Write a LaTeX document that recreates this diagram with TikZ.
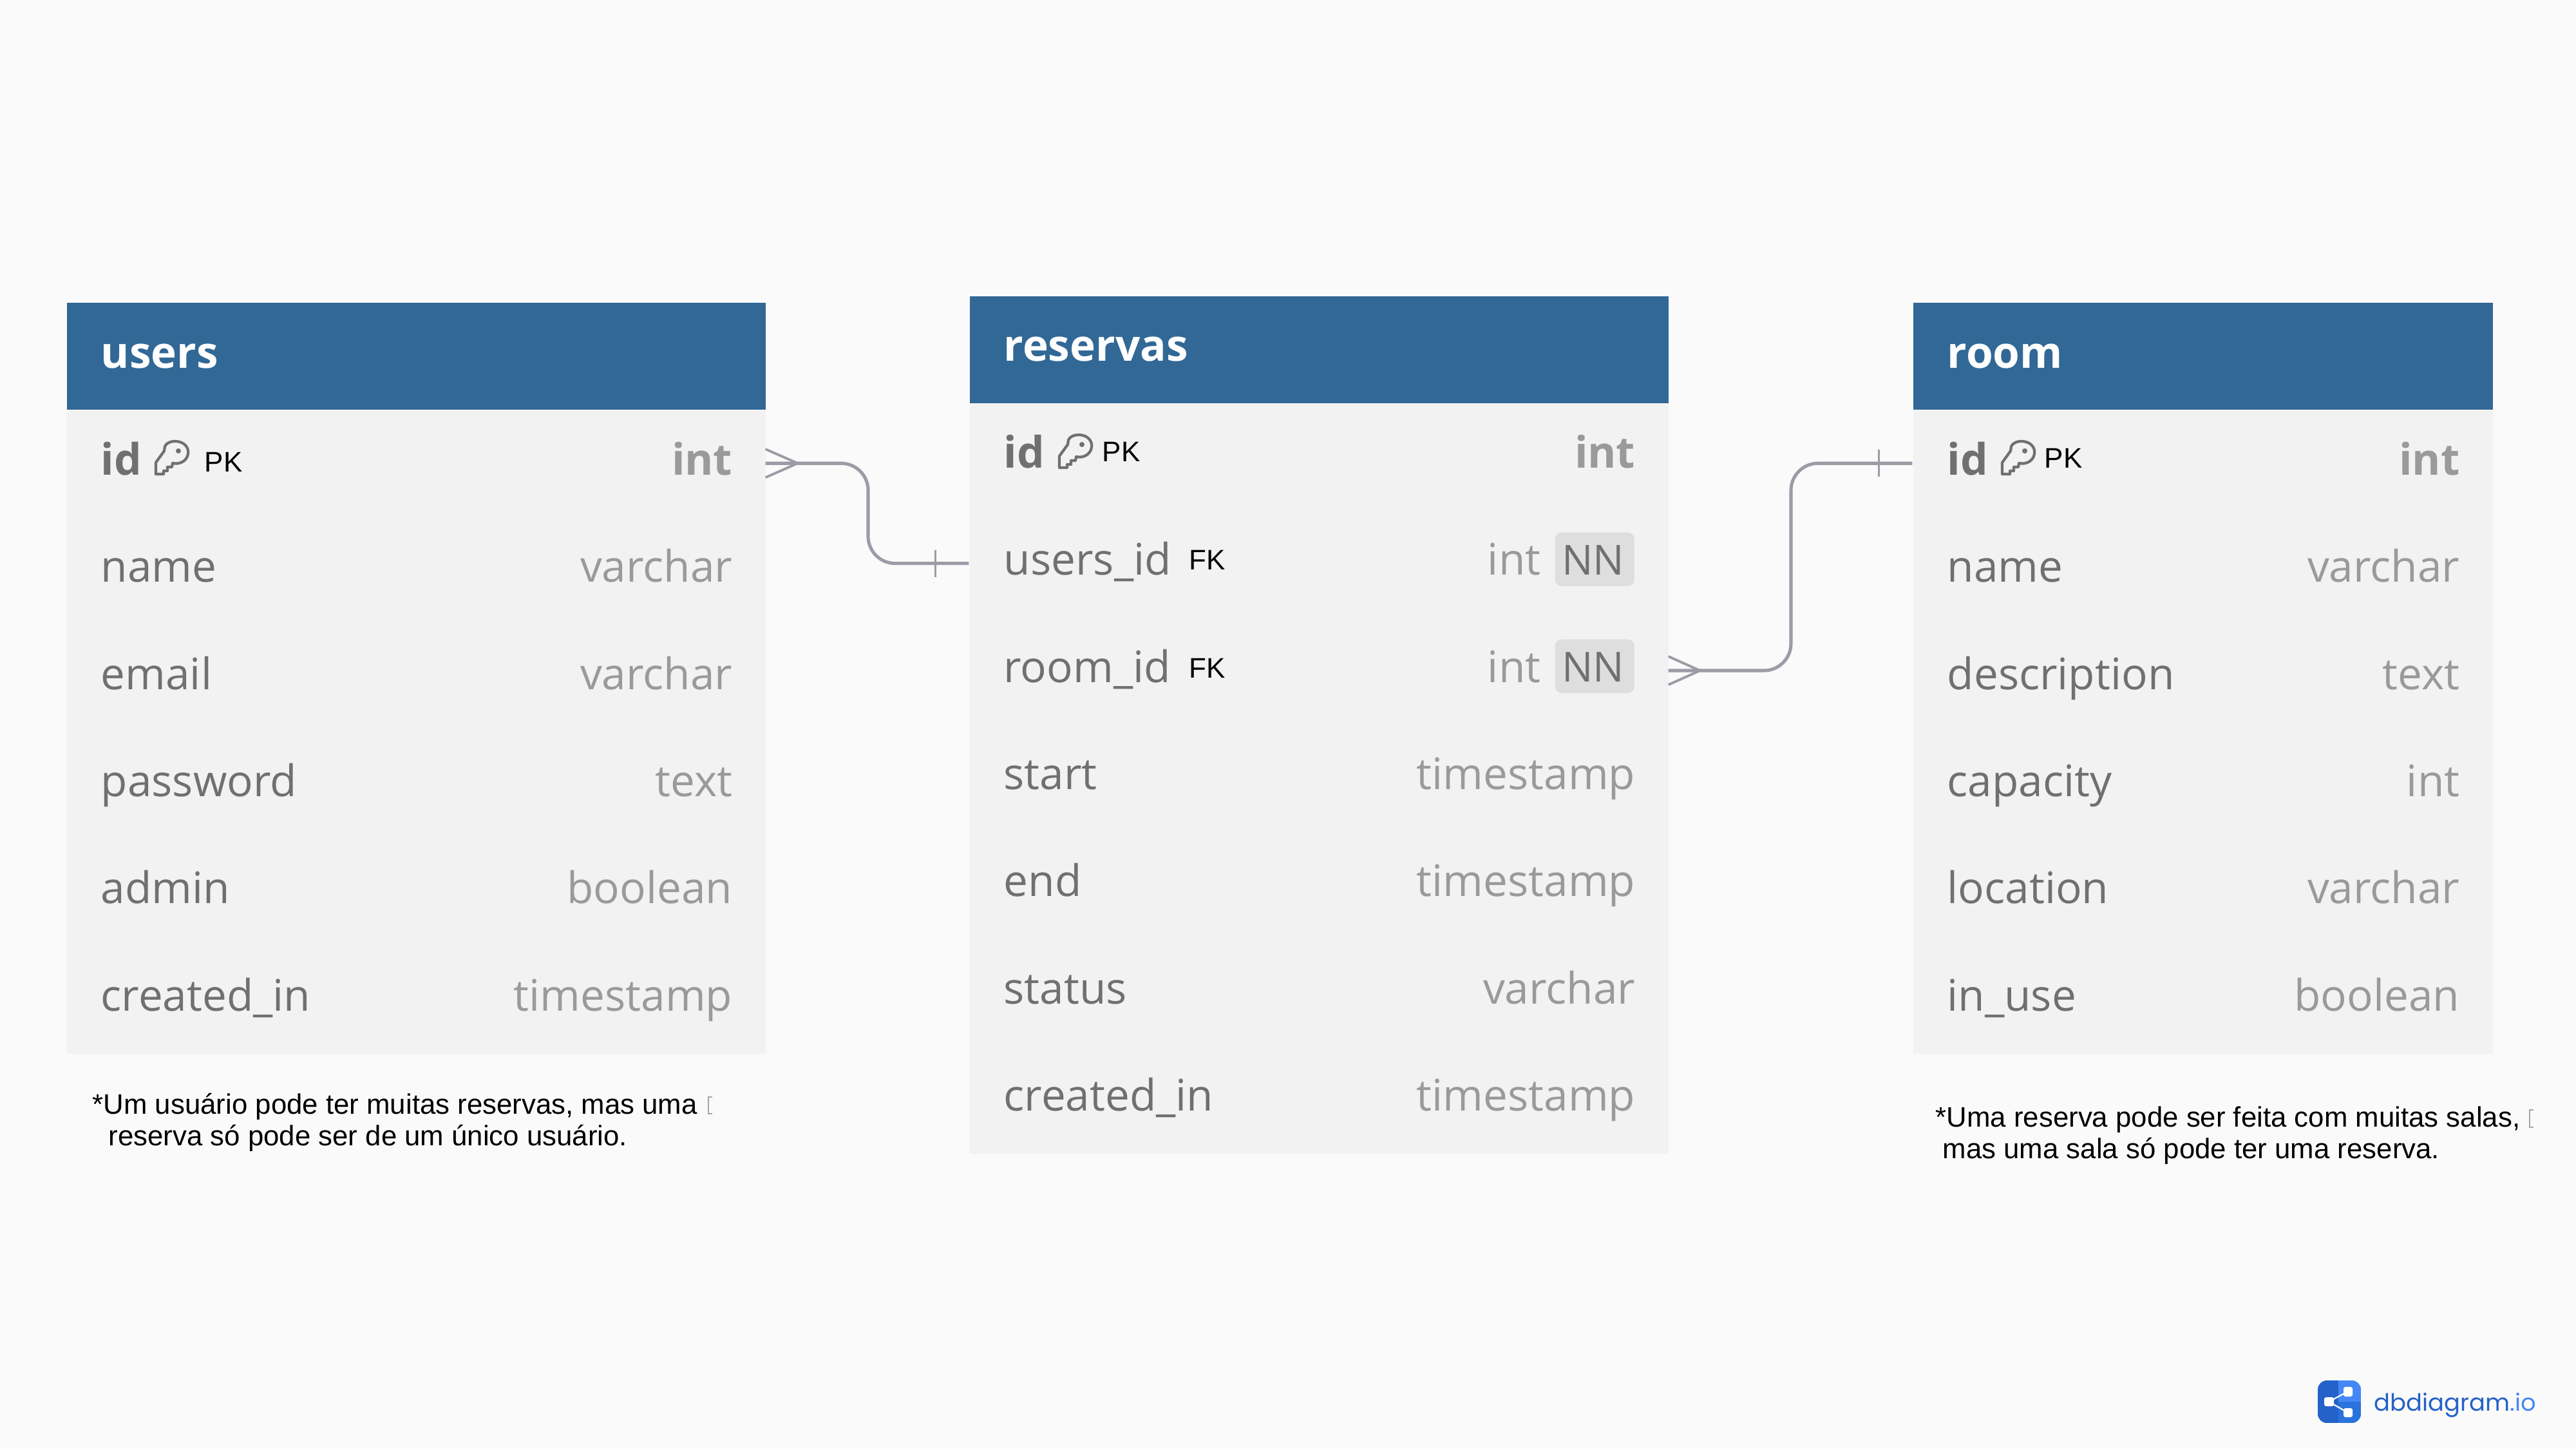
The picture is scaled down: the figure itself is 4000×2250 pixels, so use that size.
\documentclass[tikz,border=0pt]{standalone}
\usepackage{fontspec}
\usetikzlibrary{calc}
\setmainfont{Liberation Sans}
\newfontfamily\osans{Open Sans}
\newfontfamily\logofont{Poppins}
\definecolor{pagebg}{HTML}{FAFAFA}
\definecolor{headblue}{HTML}{316896}
\definecolor{bodygrey}{HTML}{F2F2F2}
\definecolor{nametxt}{HTML}{707070}
\definecolor{typetxt}{HTML}{9A9A9A}
\definecolor{badge}{HTML}{DEDEDE}
\definecolor{relline}{HTML}{9B9CA6}
\definecolor{logoa}{HTML}{2461C9}
\definecolor{logob}{HTML}{4588F5}
\definecolor{logoc}{HTML}{2A72DC}
\tikzset{
  x=0.01cm,y=-0.01cm,
  tabhead/.style={fill=headblue,draw=none,inner sep=0pt,anchor=north west,minimum height=1.665cm},
  tabbody/.style={fill=bodygrey,draw=none,inner sep=0pt,anchor=north west},
  rowbox/.style={draw=none,inner sep=0pt,minimum height=1.664cm},
  title/.style={inner sep=0pt,anchor=base west,text=white,font=\osans\bfseries\fontsize{19.2}{23}\selectfont},
  fieldname/.style={inner sep=0pt,anchor=base west,text=nametxt,font=\osans\fontsize{19.2}{23}\selectfont},
  fieldtype/.style={inner sep=0pt,anchor=base east,text=typetxt,font=\osans\fontsize{19.2}{23}\selectfont},
  nnbadge/.style={fill=badge,rounded corners=0.1cm,inner sep=0pt,minimum width=1.23cm,minimum height=0.83cm,anchor=north west},
  nntext/.style={inner sep=0pt,anchor=base east,text=nametxt,font=\osans\fontsize{18.3}{23}\selectfont},
  smalltag/.style={inner sep=0pt,anchor=base west,text=black,font=\fontsize{12.5}{15}\selectfont},
  notetext/.style={inner sep=0pt,anchor=base west,text=black,font=\fontsize{12.45}{15}\selectfont},
  relation/.style={draw=relline,line width=1.45pt,rounded corners=0.42cm},
  crowline/.style={draw=relline,line width=1.1pt},
  tickline/.style={draw=relline,line width=0.75pt},
  tofu/.style={draw=black!35,line width=0.35pt},
  keyicon/.pic={
    \draw[nametxt,line width=1.2pt,line join=round]
      (16,9) .. controls (20,-2) and (48,-3) .. (52,15)
      .. controls (54,30) and (40,38) .. (28,35)
      -- (27,41) -- (20,41) -- (20,47) -- (14,47) -- (14,52) -- (2,52) -- (2,34) -- (15,16) -- cycle;
    \fill[nametxt] (37,16) circle (4);
  }
}
% prefix, left, width, body top, list of name/type/type shift
\newcommand{\tablerows}[5]{%
  \foreach \nm/\ty/\sh [count=\i] in {#5} {
    \pgfmathsetmacro{\rc}{#4+(\i-0.5)*166.4}
    \pgfmathsetmacro{\bl}{\rc+18}
    \pgfmathsetmacro{\rx}{#2+#3/2}
    \pgfmathsetmacro{\nx}{#2+53}
    \pgfmathsetmacro{\tx}{#2+#3-50-\sh}
    \node[rowbox,minimum width=#3*0.01cm,name=#1\i] at (\rx,\rc) {};
    \node[fieldname,name=#1n\i] at (\nx,\bl) {\nm};
    \node[fieldtype,name=#1t\i] at (\tx,\bl) {\ty};
  }%
}
\begin{document}
\begin{tikzpicture}
\useasboundingbox (0,0) rectangle (4000,2250);
\fill[pagebg] (0,0) rectangle (4000,2250);

% users
\node[tabbody,minimum width=10.85cm,minimum height=9.99cm] (ubody) at (103,636) {};
\node[tabhead,minimum width=10.85cm] (uhead) at (103,469) {};
\node[title] (utitle) at (156,571) {users};
\tablerows{u}{103}{1085}{636}{{\bfseries id}/{\bfseries int}/0,name/varchar/0,email/varchar/0,password/text/0,admin/boolean/0,created\_in/timestamp/0}
\pic at (240,684) {keyicon};
\node[smalltag] (upk) at (317,732) {PK};

% reservas
\node[tabbody,minimum width=10.85cm,minimum height=11.65cm] (rbody) at (1505,625) {};
\node[tabhead,minimum width=10.85cm] (rhead) at (1505,459) {};
\node[title] (rtitle) at (1558,560) {reservas};
\node[nnbadge] (nnone) at (2414,826) {};
\node[nnbadge] (nntwo) at (2414,992) {};
\tablerows{r}{1505}{1085}{625}{{\bfseries id}/{\bfseries int}/0,users\_id/int/147,room\_id/int/147,start/timestamp/0,end/timestamp/0,status/varchar/0,created\_in/timestamp/0}
\node[nntext] (nnonet) at (2523,892) {NN};
\node[nntext] (nntwot) at (2523,1058) {NN};
\pic at (1643,674) {keyicon};
\node[smalltag] (rpk) at (1711,716) {PK};
\node[smalltag] (rfka) at (1846,884) {FK};
\node[smalltag] (rfkb) at (1846,1052) {FK};

% room
\node[tabbody,minimum width=9cm,minimum height=9.99cm] (mbody) at (2970,636) {};
\node[tabhead,minimum width=9cm] (mhead) at (2970,469) {};
\node[title] (mtitle) at (3023,571) {room};
\tablerows{m}{2970}{900}{636}{{\bfseries id}/{\bfseries int}/0,name/varchar/0,description/text/0,capacity/int/0,location/varchar/0,in\_use/boolean/0}
\pic at (3107,684) {keyicon};
\node[smalltag] (mpk) at (3174,726) {PK};

% relations
\coordinate (bendone) at (1348,0);
\coordinate (bendtwo) at (2781,0);
\draw[relation] (u1.east) -- (bendone |- u1.east) -- (bendone |- r2.west) -- (r2.west);
\draw[relation] (r3.east) -- (bendtwo |- r3.east) -- (bendtwo |- m1.west) -- (m1.west);
% crow feet and ticks
\draw[crowline] ($(u1.east)+(0,-22)$) -- ($(u1.east)+(50,0)$) -- ($(u1.east)+(0,22)$);
\draw[crowline] ($(r3.east)+(0,-22)$) -- ($(r3.east)+(49,0)$) -- ($(r3.east)+(0,22)$);
\draw[tickline] ($(r2.west)+(-52,-21)$) -- ($(r2.west)+(-52,21)$);
\draw[tickline] ($(m1.west)+(-52,-21)$) -- ($(m1.west)+(-52,21)$);

% notes
\node[notetext] (noteua) at (143,1729) {*Um usuário pode ter muitas reservas, mas uma};
\draw[tofu] (1106,1703) -- (1100,1703) -- (1100,1729) -- (1106,1729);
\node[notetext] (noteub) at (168,1778) {reserva só pode ser de um único usuário.};
\node[notetext] (notema) at (3005,1749) {*Uma reserva pode ser feita com muitas salas,};
\draw[tofu] (3934,1723) -- (3928,1723) -- (3928,1750) -- (3934,1750);
\node[notetext] (notemb) at (3016,1798) {mas uma sala só pode ter uma reserva.};

% logo
\begin{scope}
\clip[rounded corners=0.14cm] (3599,2143) rectangle (3666,2209);
\fill[logoa] (3599,2143) rectangle (3631,2209);
\fill[logob] (3631,2143) rectangle (3666,2176);
\fill[logoc] (3631,2176) rectangle (3666,2209);
\end{scope}
\draw[white,line width=0.6pt] (3616,2176) -- (3646,2160) (3616,2176) -- (3646,2193);
\fill[white,rounded corners=0.03cm] (3609,2169) rectangle (3624,2183);
\fill[white,rounded corners=0.03cm] (3639,2153) rectangle (3653,2168);
\fill[white,rounded corners=0.03cm] (3639,2186) rectangle (3653,2200);
\node[inner sep=0pt,anchor=base west,font=\logofont\fontsize{10.5}{14}\selectfont] (logotext) at (3686,2190) {\textcolor{logoa}{dbdiagram}\textcolor{logob}{.io}};
\end{tikzpicture}
\end{document}
